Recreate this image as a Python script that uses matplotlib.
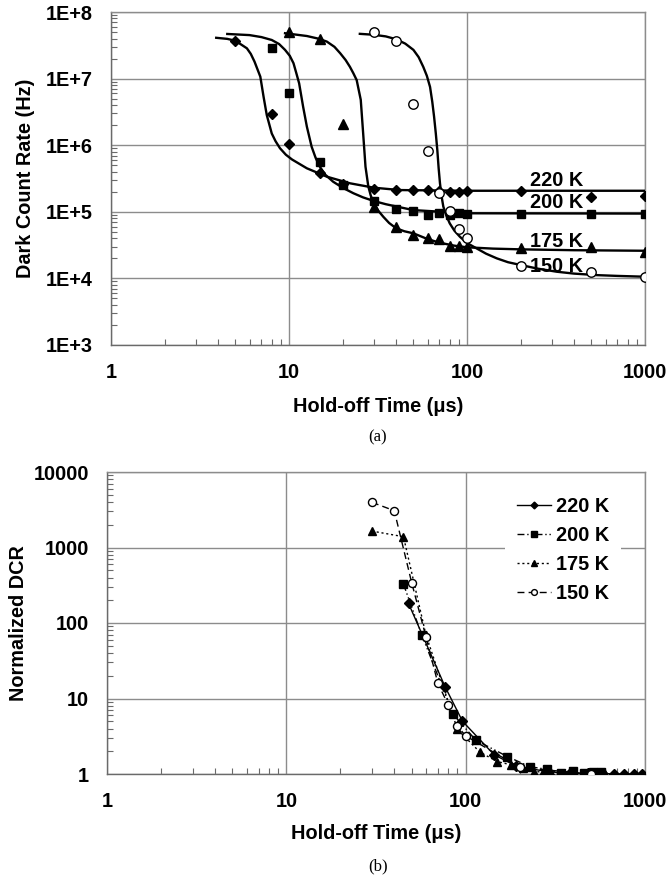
import numpy as np
import matplotlib
matplotlib.use("Agg")
import matplotlib.pyplot as plt
from matplotlib.ticker import LogLocator, FuncFormatter, NullFormatter

plt.rcParams['font.family'] = ['Liberation Sans', 'DejaVu Sans']
plt.rcParams['font.weight'] = 'bold'

# ---------------- (a) measured dark count rate ----------------
t220_x = [5, 8, 10, 15, 20, 30, 40, 50, 60, 70, 80, 90, 100, 200, 500, 1000]
t220_y = [3.7e7, 2.9e6, 1.05e6, 3.8e5, 2.6e5, 2.2e5, 2.1e5, 2.1e5, 2.1e5, 2.05e5,
          2.0e5, 2.0e5, 2.05e5, 2.05e5, 1.65e5, 1.75e5]
t200_x = [8, 10, 15, 20, 30, 40, 50, 60, 70, 80, 90, 100, 200, 500, 1000]
t200_y = [2.85e7, 6.0e6, 5.6e5, 2.5e5, 1.47e5, 1.09e5, 1.03e5, 9.0e4, 9.5e4, 9.0e4,
          9.5e4, 9.2e4, 9.2e4, 9.2e4, 9.2e4]
t175_x = [10, 15, 20, 30, 40, 50, 60, 70, 80, 90, 100, 200, 500, 1000]
t175_y = [4.96e7, 4.0e7, 2.08e6, 1.2e5, 5.85e4, 4.5e4, 4.1e4, 3.9e4, 3.1e4, 3.1e4,
          3.0e4, 2.9e4, 2.95e4, 2.47e4]
t150_x = [30, 40, 50, 60, 70, 80, 90, 100, 200, 500, 1000]
t150_y = [4.96e7, 3.7e7, 4.16e6, 8.2e5, 1.9e5, 1.04e5, 5.5e4, 4.0e4, 1.53e4, 1.26e4, 1.04e4]

# fitted curves
c220_x = [3.9, 4.5, 5.0, 5.8, 6.1, 6.4, 6.9, 7.05, 7.2, 7.5, 8.0, 8.4, 8.9, 9.6, 10.4,
          12.6, 16.3, 22, 30, 42, 100, 1000]
c220_y = [4.1e7, 3.95e7, 3.7e7, 2.85e7, 2.35e7, 1.8e7, 1.07e7, 7.5e6, 5.3e6, 2.84e6,
          1.5e6, 1.15e6, 9.0e5, 7.2e5, 6.1e5, 4.5e5, 3.37e5, 2.68e5, 2.3e5, 2.12e5,
          2.07e5, 2.07e5]
c200_x = [4.5, 6.0, 7.0, 8.0, 8.8, 9.5, 10.1, 10.6, 11.0, 11.4, 12.0, 12.6, 13.4, 14.1,
          14.9, 16.0, 17.7, 20, 23, 26, 30, 35, 42, 50, 100, 1000]
c200_y = [4.68e7, 4.5e7, 4.2e7, 3.8e7, 3.3e7, 2.7e7, 2.2e7, 1.7e7, 1.2e7, 8.5e6, 3.8e6,
          1.9e6, 9.5e5, 6.5e5, 4.75e5, 3.6e5, 2.83e5, 2.3e5, 1.9e5, 1.65e5, 1.45e5,
          1.3e5, 1.17e5, 1.06e5, 9.5e4, 9.4e4]
c175_x = [9.5, 12.6, 14.5, 16.3, 18, 19.4, 20.8, 22, 23, 24, 25.3, 26.1, 26.9, 27.9,
          28.8, 30, 31.8, 33.9, 36.5, 40, 44.5, 50, 60, 70, 85, 100, 140, 200, 400, 1000]
c175_y = [4.8e7, 4.36e7, 4.0e7, 3.6e7, 3.0e7, 2.4e7, 1.9e7, 1.5e7, 1.2e7, 9.5e6, 4.8e6,
          1.5e6, 4.75e5, 2.4e5, 1.75e5, 1.34e5, 1.03e5, 8.4e4, 6.8e4, 5.65e4, 5.1e4,
          4.75e4, 3.9e4, 3.44e4, 3.1e4, 2.93e4, 2.8e4, 2.73e4, 2.65e4, 2.6e4]
c150_x = [25, 30, 35, 40, 45, 50, 53.5, 56.8, 59.5, 62, 63.8, 65.3, 66.8, 68.1, 69.3,
          70.5, 72, 73.6, 76.5, 80, 85, 91.4, 100, 113, 128, 147, 170, 200, 250, 319,
          400, 535, 700, 1000]
c150_y = [4.7e7, 4.55e7, 4.3e7, 3.9e7, 3.35e7, 2.7e7, 2.1e7, 1.5e7, 1.1e7, 7.5e6, 4.5e6,
          2.7e6, 1.5e6, 8.5e5, 4.5e5, 2.68e5, 1.7e5, 1.2e5, 8.8e4, 6.7e4, 5.2e4, 4.2e4,
          3.4e4, 2.83e4, 2.35e4, 2.0e4, 1.75e4, 1.59e4, 1.4e4, 1.26e4, 1.18e4, 1.12e4,
          1.09e4, 1.06e4]

temps = ['220 K', '200 K', '175 K', '150 K']

# ---------------- (b) normalized DCR ----------------
b220_x = [48, 77, 96, 144, 192, 288, 384, 480, 576, 672, 768, 864, 960]
b220_y = [182, 14.1, 5.0, 1.8, 1.27, 1.07, 1.02, 1.02, 1.02, 1.0, 1.0, 1.0, 1.0]
b200_x = [45, 57, 85, 114, 171, 228, 285, 342, 399, 456, 513, 570]
b200_y = [326, 69, 6.2, 2.8, 1.7, 1.25, 1.15, 1.03, 1.08, 1.03, 1.07, 1.05]
b175_x = [30, 45, 60, 90, 120, 150, 180, 210, 240, 270, 300, 600]
b175_y = [1650, 1390, 70, 3.9, 1.95, 1.46, 1.32, 1.2, 1.07, 1.07, 1.03, 1.0]
b150_x = [30, 40, 50, 60, 70, 80, 90, 100, 200, 500, 1000]
b150_y = [3970, 3070, 342, 66, 15.9, 8.2, 4.3, 3.2, 1.22, 1.0, 0.83]

FS = 14.3
GRID = '#8c8c8c'
SPINE = '#6a6a6a'

fig = plt.figure(figsize=(6.69, 8.84), dpi=100)


def style_axes(ax, ylo, yhi, yfmt):
    ax.set_xscale('log')
    ax.set_yscale('log')
    ax.set_xlim(1, 1000)
    ax.set_ylim(ylo, yhi)
    ax.xaxis.set_major_locator(LogLocator(base=10, numticks=10))
    ax.yaxis.set_major_locator(LogLocator(base=10, numticks=12))
    ax.xaxis.set_minor_locator(LogLocator(base=10, subs=np.arange(2, 10), numticks=12))
    ax.yaxis.set_minor_locator(LogLocator(base=10, subs=np.arange(2, 10), numticks=12))
    ax.xaxis.set_minor_formatter(NullFormatter())
    ax.yaxis.set_minor_formatter(NullFormatter())
    ax.xaxis.set_major_formatter(FuncFormatter(lambda v, p: f"{v:g}"))
    ax.yaxis.set_major_formatter(FuncFormatter(yfmt))
    ax.grid(True, which='major', color=GRID, linewidth=1.0)
    ax.tick_params(which='both', direction='in', color=SPINE, width=0.8,
                   labelsize=FS, top=False, right=False)
    ax.tick_params(which='major', length=0, pad=13)
    ax.tick_params(which='minor', length=4)
    for s in ['left', 'bottom']:
        ax.spines[s].set_color(SPINE)
        ax.spines[s].set_linewidth(1.0)
    for s in ['top', 'right']:
        ax.spines[s].set_color(GRID)
        ax.spines[s].set_linewidth(1.0)
    for lab in ax.get_xticklabels() + ax.get_yticklabels():
        lab.set_fontweight('bold')
    ax.set_axisbelow(True)


# ---- top panel ----
ax1 = fig.add_axes([111 / 669, 1 - 345 / 884, 534 / 669, 333 / 884])
style_axes(ax1, 1e3, 1e8, lambda v, p: f"1E+{int(round(np.log10(v)))}")

for cx, cy in [(c220_x, c220_y), (c200_x, c200_y), (c175_x, c175_y), (c150_x, c150_y)]:
    ax1.plot(cx, cy, color='black', linewidth=1.7, zorder=3, solid_joinstyle='round')

ax1.plot(t220_x, t220_y, linestyle='none', marker='D', ms=5.4, color='black', zorder=4)
ax1.plot(t200_x, t200_y, linestyle='none', marker='s', ms=6.2, color='black', zorder=4)
ax1.plot(t175_x, t175_y, linestyle='none', marker='^', ms=6.8, color='black', zorder=4)
ax1.plot(t150_x, t150_y, linestyle='none', marker='o', ms=6.8, mfc='white', mec='black',
         mew=1.0, zorder=4)

for lab, yv in zip(temps, [3.0e5, 1.36e5, 3.56e4, 1.53e4]):
    ax1.text(319, yv, lab, fontsize=FS, fontweight='bold', ha='center', va='center', zorder=5)

ax1.set_xlabel('Hold-off Time (μs)', fontsize=FS, fontweight='bold', labelpad=11)
ax1.set_ylabel('Dark Count Rate (Hz)', fontsize=FS, fontweight='bold', labelpad=8)
fig.text(378 / 669, 1 - 437 / 884, '(a)', fontsize=12, family='Liberation Serif',
         fontweight='normal', ha='center', va='center')

# ---- bottom panel ----
ax2 = fig.add_axes([107 / 669, 1 - 774 / 884, 538 / 669, 302 / 884])
style_axes(ax2, 1, 1e4, lambda v, p: f"{v:g}")

ax2.plot(b220_x, b220_y, color='black', linewidth=1.0, linestyle='-', marker='D', ms=4.8,
         label=temps[0], zorder=4)
ax2.plot(b200_x, b200_y, color='black', linewidth=1.0, linestyle=(0, (5, 2, 1, 2, 1, 2)),
         marker='s', ms=5.8, label=temps[1], zorder=4)
ax2.plot(b175_x, b175_y, color='black', linewidth=1.0, linestyle=(0, (1.5, 2)),
         marker='^', ms=6.2, label=temps[2], zorder=4)
ax2.plot(b150_x, b150_y, color='black', linewidth=1.0, linestyle=(0, (5, 3)),
         marker='o', ms=5.8, mfc='white', mec='black', label=temps[3], zorder=4)

leg = ax2.legend(loc='upper left', bbox_to_anchor=(0.722, 0.99), frameon=True,
                 prop={'size': FS, 'weight': 'bold'}, handlelength=1.7,
                 handletextpad=0.25, labelspacing=0.5, borderpad=0.6,
                 markerscale=0.72, fancybox=False)
leg.get_frame().set_edgecolor('none')
leg.get_frame().set_facecolor('white')
leg.get_frame().set_alpha(1)

ax2.set_xlabel('Hold-off Time (μs)', fontsize=FS, fontweight='bold', labelpad=9)
ax2.set_ylabel('Normalized DCR', fontsize=FS, fontweight='bold', labelpad=4)
fig.text(378 / 669, 1 - 866 / 884, '(b)', fontsize=12, family='Liberation Serif',
         fontweight='normal', ha='center', va='center')

fig.savefig('out.png', dpi=100)
